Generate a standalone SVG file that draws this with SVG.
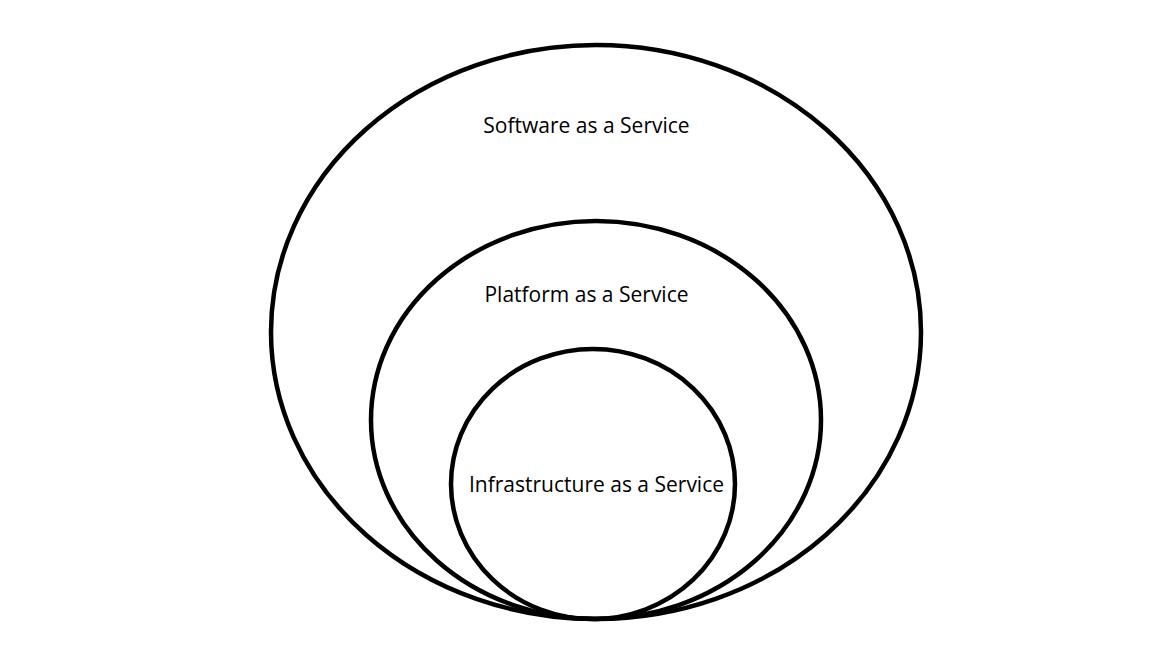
<svg xmlns="http://www.w3.org/2000/svg" width="1152" height="648" viewBox="0 0 1152 648">
<style>
.ring{fill:none;stroke:#000;stroke-width:4.5}
.lbl{font-family:"Open Sans","Liberation Sans",sans-serif;font-size:21px;fill:#000;text-anchor:middle}
</style>
<rect width="1152" height="648" fill="#fff"/>
<g id="saas">
<ellipse class="ring" cx="596" cy="332" rx="325" ry="287"/>
<text class="lbl" x="586.5" y="133">Software as a Service</text>
</g>
<g id="paas">
<ellipse class="ring" cx="596" cy="420" rx="225" ry="199"/>
<text class="lbl" x="586.5" y="302">Platform as a Service</text>
</g>
<g id="iaas">
<ellipse class="ring" cx="593" cy="484" rx="142" ry="135"/>
<text class="lbl" x="596.5" y="492">Infrastructure as a Service</text>
</g>
<g id="connectors"/>
</svg>
